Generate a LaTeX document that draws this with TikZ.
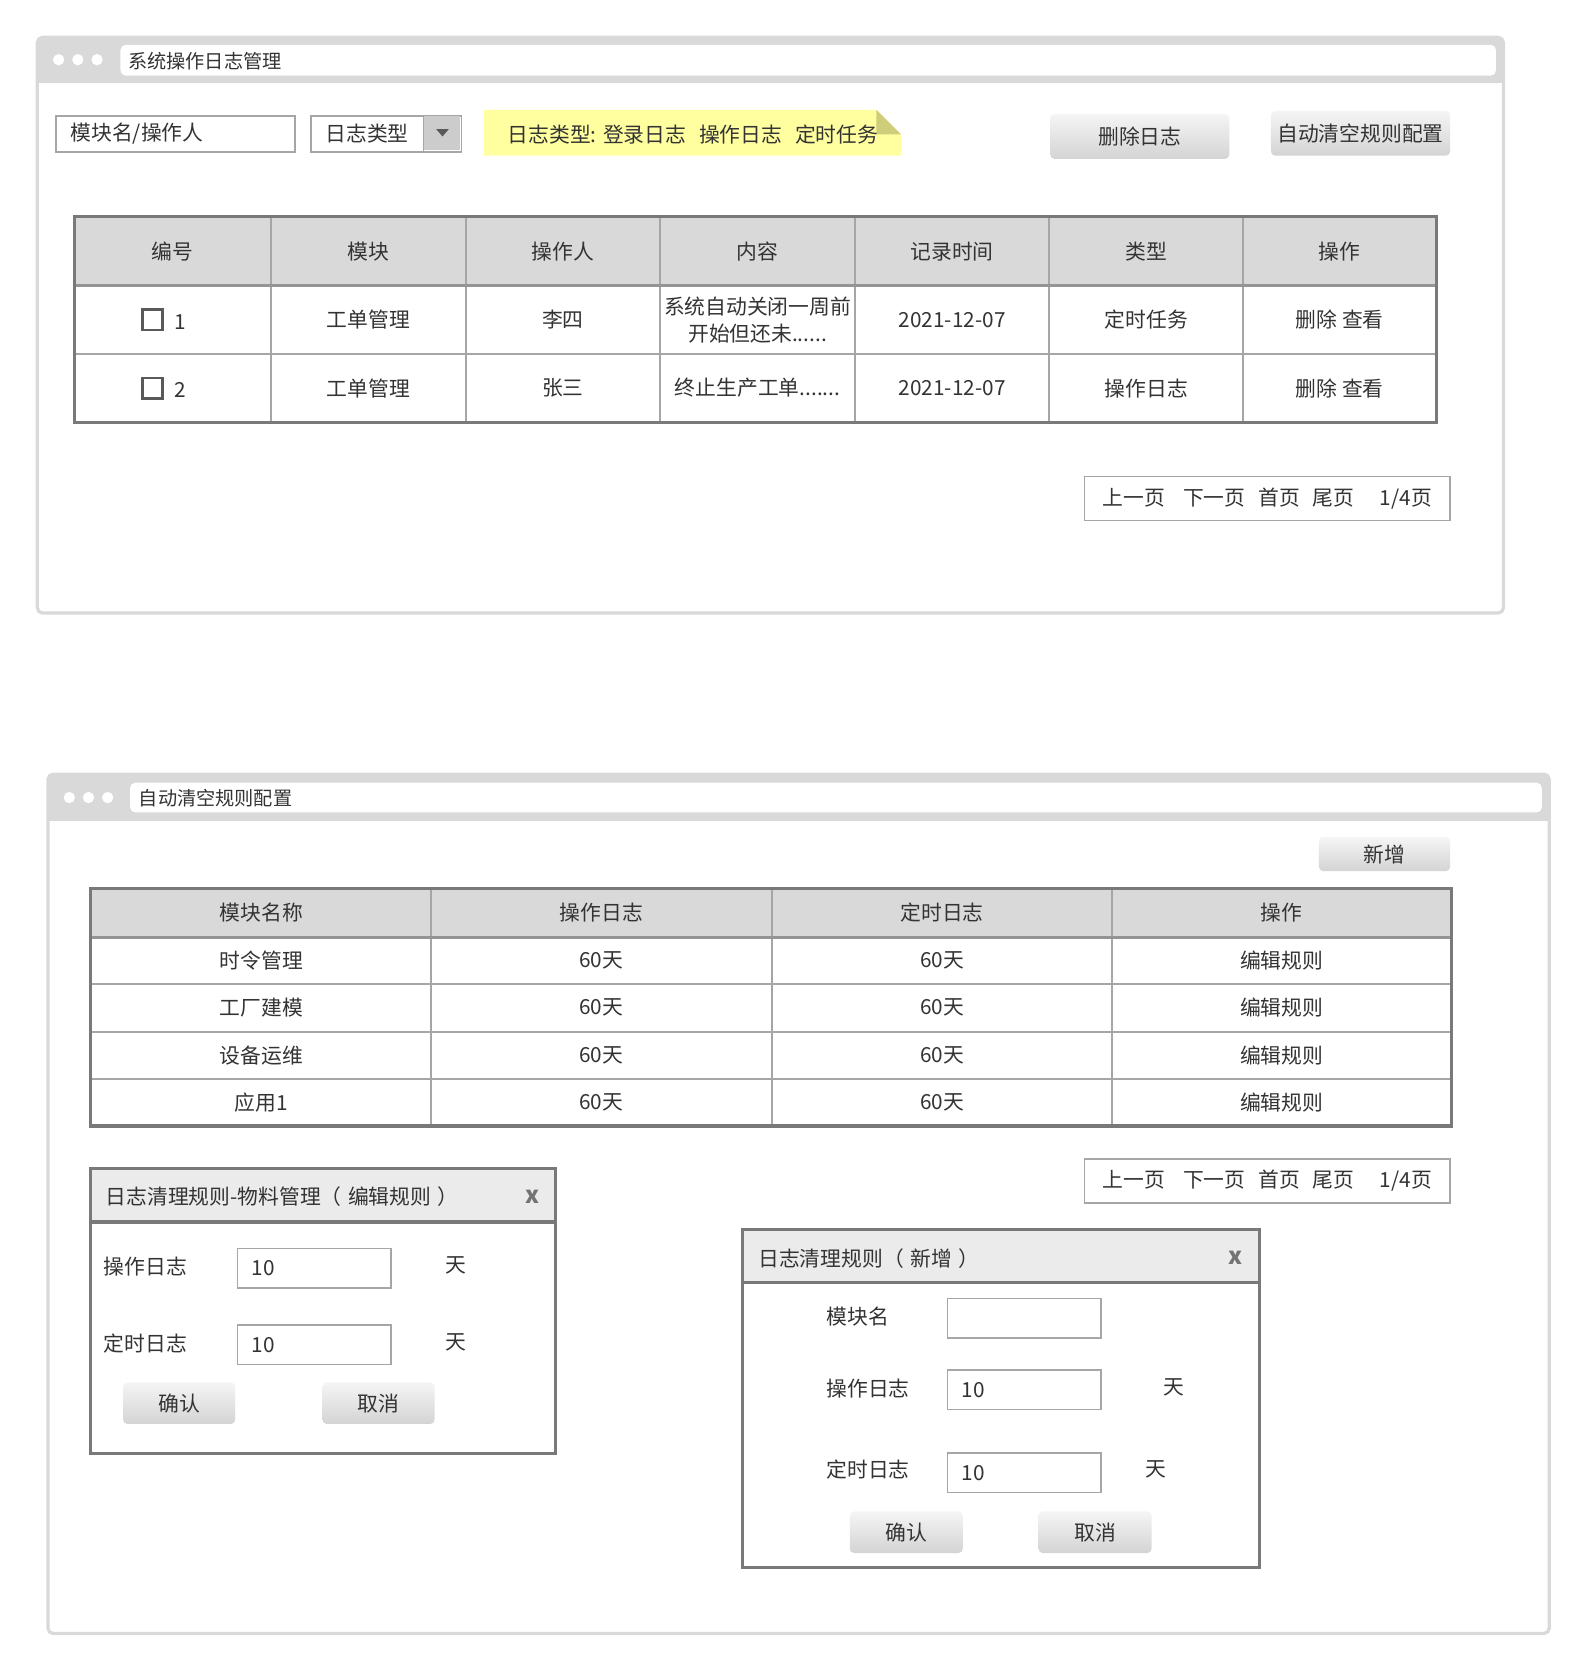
\documentclass[tikz,border=0pt]{standalone}
\usepackage{fontspec}
\setmainfont{Noto Sans CJK SC}
\usetikzlibrary{positioning}
\definecolor{ink}{HTML}{333333}
\definecolor{chrome}{HTML}{D9D9D9}
\definecolor{rim}{HTML}{797979}
\definecolor{gridline}{HTML}{A6A6A6}
\definecolor{dlghead}{HTML}{EBEBEB}
\definecolor{notefill}{HTML}{FFFFA0}
\definecolor{notefold}{HTML}{CDCD7A}
\tikzset{
  txt/.style      = {font=\fontsize{19.5}{25}\selectfont, text=ink, inner sep=0pt},
  titletxt/.style = {font=\fontsize{18}{22}\selectfont, text=ink, inner sep=0pt, anchor=west},
  btnbox/.style   = {shape=rectangle, rounded corners=4pt, txt,
                     top color=black!4, bottom color=black!17},
  inbox/.style    = {shape=rectangle, draw=gridline, line width=1.5pt, fill=white,
                     anchor=north west, minimum width=144, minimum height=37},
  pager/.style    = {shape=rectangle, draw=gridline, line width=1.5pt, txt,
                     minimum width=343, minimum height=41},
  chk/.style      = {shape=rectangle, draw=black!65, line width=2.5pt,
                     minimum size=19, inner sep=0pt},
  closex/.style   = {font=\fontsize{22}{22}\selectfont\bfseries, text=black!55, inner sep=0pt},
}
\begin{document}
\begin{tikzpicture}[x=1pt, y=-1pt]
\useasboundingbox (0,0) rectangle (1490,1570);

% --- window 1: log list
\draw[chrome, line width=3pt, rounded corners=5pt, fill=white] (35,35) rectangle (1410,575);
\fill[chrome, rounded corners=5pt] (35,35) rectangle (1410,78);
\fill[chrome] (35,60) rectangle (1410,78);
\fill[white, rounded corners=5pt] (113,42) rectangle (1403,71);
\foreach \x in {55,73,91} \fill[white] (\x,56) circle (5.3);
\node[titletxt] (logtitle) at (120,57) {系统操作日志管理};

\node[inbox, minimum width=224, minimum height=34] (search) at (52,108) {};
\node[txt, anchor=west] (searchtxt) at ([xshift=14pt]search.west) {模块名/操作人};
\node[inbox, minimum width=141, minimum height=34] (typesel) at (291,108) {};
\node[txt, anchor=west] (typetxt) at ([xshift=14pt]typesel.west) {日志类型};
\fill[black!20] (397,109) rectangle (431,141);
\draw[gridline, line width=1.5pt] (397,108) -- (397,142);
\fill[black!65] (409,121) -- (421,121) -- (415,128) -- cycle;

\fill[notefill] (454,103) -- (822,103) -- (845,126) -- (845,146) -- (454,146) -- cycle;
\fill[notefold] (822,103) -- (845,126) -- (822,126) -- cycle;
\node[txt, anchor=west] (notetxt) at (476,126)
  {日志类型:\hspace{6pt}登录日志\hspace{12pt}操作日志\hspace{12pt}定时任务};

\node[btnbox, minimum width=168, minimum height=42] (delbtn) at (1069,128) {删除日志};
\node[btnbox, minimum width=168, minimum height=42] (rulebtn) at (1276,125) {自动清空规则配置};

% table
\fill[chrome] (70,203) rectangle (1347,268);
\foreach \x in {254,437,619,802,984,1166}
  \draw[gridline, line width=2pt] (\x,203) -- (\x,396);
\draw[gridline, line width=2pt] (70,332) -- (1347,332);
\draw[rim!80, line width=2.5pt] (70,268) -- (1347,268);
\draw[rim, line width=3pt] (70,203) rectangle (1347,396);

\foreach \c/\t [count=\i] in {162/编号, 345.5/模块, 528/操作人, 710.5/内容,
                              893/记录时间, 1075/类型, 1256.5/操作}
  \node[txt] (th\i) at (\c,236) {\t};

\node[chk] (cb1) at (143,300) {};
\node[txt, right=10pt of cb1, yshift=-2pt] (no1) {1};
\foreach \c/\t [count=\i] in {345.5/工单管理, 528/李四, 893/2021-12-07,
                              1075/定时任务, 1256.5/删除 查看}
  \node[txt] (ra\i) at (\c,300) {\t};
\node[txt, align=center] (raText) at (710.5,300) {系统自动关闭一周前\\开始但还未......};

\node[chk] (cb2) at (143,364) {};
\node[txt, right=10pt of cb2, yshift=-2pt] (no2) {2};
\foreach \c/\t [count=\i] in {345.5/工单管理, 528/张三, 893/2021-12-07,
                              1075/操作日志, 1256.5/删除 查看}
  \node[txt] (rb\i) at (\c,364) {\t};
\node[txt] (rbText) at (710.5,364) {终止生产工单.......};

\node[pager] (pager1) at (1188.5,467.5)
  {上一页\hspace{17pt}下一页\hspace{12pt}首页\hspace{12pt}尾页\hspace{24pt}1/4页};

% --- window 2: clean-up rules
\draw[chrome, line width=3pt, rounded corners=5pt, fill=white] (45,726) rectangle (1453,1532);
\fill[chrome, rounded corners=5pt] (45,726) rectangle (1453,770);
\fill[chrome] (45,750) rectangle (1453,770);
\fill[white, rounded corners=5pt] (122,734) rectangle (1446,762);
\foreach \x in {65,83,101} \fill[white] (\x,748) circle (5.3);
\node[titletxt] (ruletitle) at (130,749) {自动清空规则配置};

\node[btnbox, minimum width=123, minimum height=32] (addbtn) at (1298.5,801) {新增};

\fill[chrome] (85,833) rectangle (1361,879);
\foreach \x in {404.5,724,1043}
  \draw[gridline, line width=2pt] (\x,833) -- (\x,1056);
\foreach \y in {923,968,1012}
  \draw[gridline, line width=2pt] (85,\y) -- (1361,\y);
\draw[rim!80, line width=2.5pt] (85,879) -- (1361,879);
\draw[rim, line width=3pt] (85,833) rectangle (1361,1056);

\foreach \c/\t [count=\i] in {245/模块名称, 564/操作日志, 883.5/定时日志, 1202/操作}
  \node[txt] (rh\i) at (\c,856) {\t};
\foreach \m/\y [count=\j] in {时令管理/901, 工厂建模/945, 设备运维/990, 应用1/1034} {
  \node[txt] (mod\j) at (245,\y) {\m};
  \node[txt] (op\j) at (564,\y) {60天};
  \node[txt] (tm\j) at (883.5,\y) {60天};
  \node[txt] (ed\j) at (1202,\y) {编辑规则};
}

\node[pager] (pager2) at (1188.5,1107.5)
  {上一页\hspace{17pt}下一页\hspace{12pt}首页\hspace{12pt}尾页\hspace{24pt}1/4页};

% dialog: edit rule
\draw[rim, line width=3pt, fill=white] (85,1096) rectangle (521,1363);
\fill[dlghead] (86.5,1097.5) rectangle (519.5,1146);
\draw[rim, line width=3pt] (85,1146) -- (521,1146);
\node[txt, anchor=west] (editttl) at (99,1122)
  {日志清理规则-物料管理（\hspace{6pt}编辑规则\hspace{6pt}）};
\node[closex] (editx) at (499,1122) {x};

\node[txt, anchor=west] (editop) at (97,1188) {操作日志};
\node[inbox] (editopin) at (222,1170) {};
\node[txt, anchor=west] (editopval) at ([xshift=14pt]editopin.west) {10};
\node[txt] (editopday) at (428,1187) {天};
\node[txt, anchor=west] (edittm) at (97,1260) {定时日志};
\node[inbox] (edittmin) at (222,1242) {};
\node[txt, anchor=west] (edittmval) at ([xshift=14pt]edittmin.west) {10};
\node[txt] (edittmday) at (428,1259) {天};

\node[btnbox, minimum width=105, minimum height=39] (editok) at (168,1316) {确认};
\node[btnbox, minimum width=105, minimum height=39] (editno) at (355,1316) {取消};

% dialog: new rule
\draw[rim, line width=3pt, fill=white] (696,1153) rectangle (1181,1470);
\fill[dlghead] (697.5,1154.5) rectangle (1179.5,1203);
\draw[rim, line width=3pt] (696,1203) -- (1181,1203);
\node[txt, anchor=west] (newttl) at (711,1180) {日志清理规则（\hspace{6pt}新增\hspace{6pt}）};
\node[closex] (newx) at (1159,1180) {x};

\node[txt, anchor=west] (newmod) at (775,1235) {模块名};
\node[inbox] (newmodin) at (888,1217) {};
\node[txt, anchor=west] (newop) at (775,1302) {操作日志};
\node[inbox] (newopin) at (888,1284) {};
\node[txt, anchor=west] (newopval) at ([xshift=14pt]newopin.west) {10};
\node[txt] (newopday) at (1101,1301) {天};
\node[txt, anchor=west] (newtm) at (775,1378) {定时日志};
\node[inbox] (newtmin) at (888,1362) {};
\node[txt, anchor=west] (newtmval) at ([xshift=14pt]newtmin.west) {10};
\node[txt] (newtmday) at (1084,1378) {天};

\node[btnbox, minimum width=106, minimum height=39] (newok) at (850,1437) {确认};
\node[btnbox, minimum width=106, minimum height=39] (newno) at (1027,1437) {取消};
\end{tikzpicture}
\end{document}
